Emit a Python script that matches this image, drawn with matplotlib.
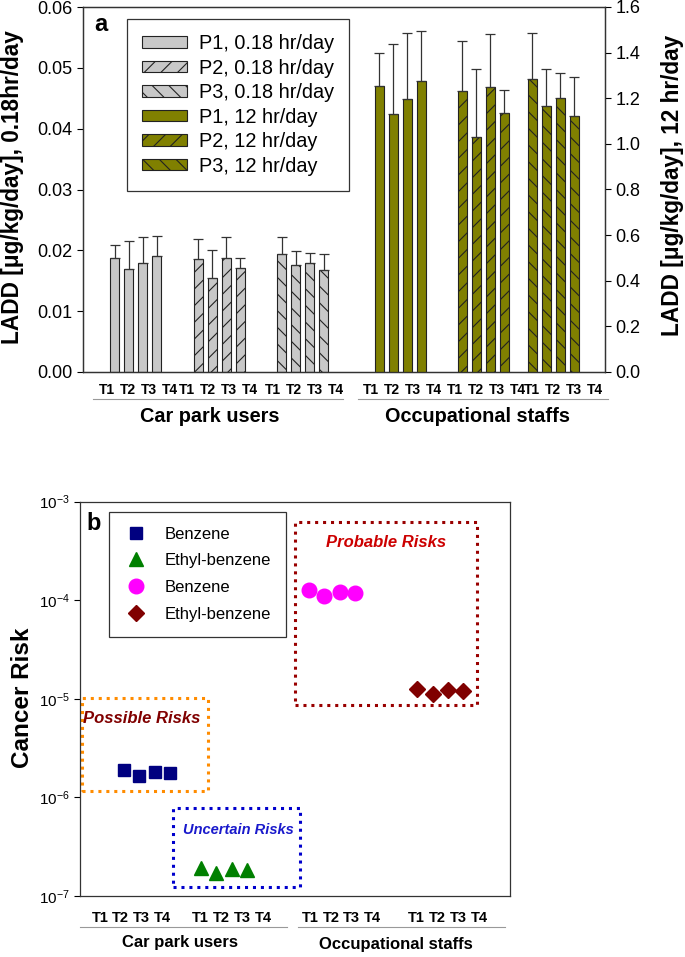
import numpy as np
import matplotlib.pyplot as plt
from matplotlib.patches import Patch, Rectangle
from matplotlib.ticker import NullLocator, FixedLocator

plt.rcParams['font.family'] = ['Liberation Sans', 'DejaVu Sans']
plt.rcParams['hatch.linewidth'] = 0.8

# ---- panel a data: LADD values (bar heights) and upper error amounts ----
times = ["T1", "T2", "T3", "T4"]
series_labels = ["P1, 0.18 hr/day", "P2, 0.18 hr/day", "P3, 0.18 hr/day",
                 "P1, 12 hr/day", "P2, 12 hr/day", "P3, 12 hr/day"]
p1_short = [0.0188, 0.0170, 0.0180, 0.0191]
p1_short_err = [0.0021, 0.0046, 0.0042, 0.0033]
p2_short = [0.0185, 0.0155, 0.0188, 0.0171]
p2_short_err = [0.0033, 0.0045, 0.0034, 0.0016]
p3_short = [0.0194, 0.0176, 0.0180, 0.0168]
p3_short_err = [0.0028, 0.0023, 0.0016, 0.0026]
p1_long = [1.255, 1.129, 1.196, 1.277]
p1_long_err = [0.143, 0.309, 0.290, 0.216]
p2_long = [1.233, 1.031, 1.249, 1.135]
p2_long_err = [0.216, 0.298, 0.233, 0.102]
p3_long = [1.284, 1.167, 1.202, 1.120]
p3_long_err = [0.201, 0.162, 0.108, 0.173]

# ---- panel b data: cancer risk ----
risk_labels = ["Benzene", "Ethyl-benzene", "Benzene", "Ethyl-benzene"]
benzene_car = [1.88e-6, 1.66e-6, 1.82e-6, 1.77e-6]
ethyl_car = [1.94e-7, 1.70e-7, 1.86e-7, 1.82e-7]
benzene_occ = [1.27e-4, 1.11e-4, 1.22e-4, 1.19e-4]
ethyl_occ = [1.25e-5, 1.11e-5, 1.23e-5, 1.19e-5]

fig = plt.figure(figsize=(6.85, 9.57), dpi=100)
W, H = 685.0, 957.0

# ================= panel a =================
ax = fig.add_axes([83 / W, 1 - 372 / H, 522 / W, 365 / H])
ax2 = ax.twinx()
ax.set_xlim(0, 37.29)
ax.set_ylim(0, 0.06)
ax2.set_ylim(0, 1.6)

gray = '#c8c8c8'
olive = '#808000'
bar_w = 0.66
group_x = [2.26, 8.24, 14.2, 21.16, 27.09, 32.09]
label_x = [1.69, 7.41, 13.57, 20.57, 26.57, 32.05]
hatches = [None, '//', '\\\\', None, '//', '\\\\']
vals = [p1_short, p2_short, p3_short, p1_long, p2_long, p3_long]
errs = [p1_short_err, p2_short_err, p3_short_err, p1_long_err, p2_long_err, p3_long_err]

handles = []
for i in range(6):
    a = ax if i < 3 else ax2
    col = gray if i < 3 else olive
    x = group_x[i] + np.arange(4)
    a.bar(x, vals[i], width=bar_w, color=col, edgecolor='#222222',
          linewidth=0.8, hatch=hatches[i], zorder=2)
    a.errorbar(x, vals[i], yerr=[np.zeros(4), errs[i]], fmt='none',
               ecolor='#333333', elinewidth=0.9, capsize=3.6, capthick=0.9,
               zorder=3)
    handles.append(Patch(facecolor=col, edgecolor='#222222', linewidth=0.8,
                         hatch=hatches[i], label=series_labels[i]))
    for k, t in enumerate(times):
        ax.text(label_x[i] + 1.5 * k, -0.0018, t, ha='center', va='top',
                fontsize=10, fontweight='bold')

ax.set_yticks(np.arange(0, 0.061, 0.01))
ax.set_yticklabels([f"{v:.2f}" for v in np.arange(0, 0.061, 0.01)])
ax2.set_yticks(np.arange(0, 1.61, 0.2))
ax2.set_yticklabels([f"{v:.1f}" for v in np.arange(0, 1.61, 0.2)])
ax.set_xticks([])
for a in (ax, ax2):
    a.tick_params(axis='y', labelsize=13, length=4, width=0.8, direction='out')
    for s in a.spines.values():
        s.set_linewidth(0.9)
        s.set_color('#333333')

leg = ax2.legend(handles=handles, loc='upper left', bbox_to_anchor=(0.084, 0.967),
                 borderaxespad=0, fontsize=14.3, handlelength=2.3, handleheight=0.5,
                 labelspacing=0.28, handletextpad=0.6, borderpad=0.75,
                 fancybox=False, edgecolor='#333333', framealpha=1)
leg.get_frame().set_linewidth(0.9)

ax.text(0.021, 0.951, 'a', transform=ax.transAxes, fontsize=17,
        fontweight='bold', va='center')

# group captions and grey lines for panel a
fig.add_artist(plt.Line2D([93 / W, 343 / W], [1 - 399 / H] * 2, color='#999999', lw=0.8))
fig.add_artist(plt.Line2D([358 / W, 608 / W], [1 - 399 / H] * 2, color='#999999', lw=0.8))
fig.text(210 / W, 1 - 416 / H, 'Car park users', ha='center', va='center',
         fontsize=14.3, fontweight='bold')
fig.text(478 / W, 1 - 416 / H, 'Occupational staffs', ha='center', va='center',
         fontsize=14.3, fontweight='bold')
fig.text(13 / W, 1 - 187 / H, 'LADD [μg/kg/day], 0.18hr/day', rotation=90,
         ha='center', va='center', fontsize=16.3, fontweight='bold')
fig.text(673 / W, 1 - 185 / H, 'LADD [μg/kg/day], 12 hr/day', rotation=90,
         ha='center', va='center', fontsize=16.3, fontweight='bold')

# ================= panel b =================
bx = fig.add_axes([80 / W, 1 - 896 / H, 430 / W, 394.3 / H])
bx.set_yscale('log')
bx.set_ylim(1e-7, 1e-3)
bx.set_xlim(0, 27.92)
bx.yaxis.set_major_locator(FixedLocator([1e-7, 1e-6, 1e-5, 1e-4, 1e-3]))
bx.yaxis.set_minor_locator(NullLocator())
bx.set_yticklabels([r'$\mathregular{10^{-7}}$', r'$\mathregular{10^{-6}}$',
                    r'$\mathregular{10^{-5}}$', r'$\mathregular{10^{-4}}$',
                    r'$\mathregular{10^{-3}}$'])
bx.set_xticks([])
bx.tick_params(axis='y', labelsize=11, length=4, width=0.8)
for s in bx.spines.values():
    s.set_linewidth(0.9)
    s.set_color('#333333')

pt_group_x = [2.86, 7.84, 14.87, 21.9]
pt_label_x = [1.3, 7.84, 14.94, 21.86]
series_b = [benzene_car, ethyl_car, benzene_occ, ethyl_occ]
markers = ['s', '^', 'o', 'D']
mcolors = ['#000080', '#008000', '#ff00ff', '#800000']
msizes = [9, 9.5, 10.5, 8.5]
for i in range(4):
    x = pt_group_x[i] + np.arange(4)
    bx.plot(x, series_b[i], linestyle='none', marker=markers[i], color=mcolors[i],
            markersize=msizes[i], label=risk_labels[i], zorder=3)
    for k, t in enumerate(times):
        bx.text(pt_label_x[i] + 1.35 * k, 7.0e-8, t, ha='center', va='top',
                fontsize=10.5, fontweight='bold')

leg2 = bx.legend(loc='upper left', bbox_to_anchor=(0.067, 0.975), borderaxespad=0,
                 fontsize=12, handlelength=1.5, handletextpad=0.95,
                 labelspacing=0.7, borderpad=0.9, fancybox=False,
                 edgecolor='#333333', framealpha=1, numpoints=1)
leg2.get_frame().set_linewidth(0.9)

# risk zones
zones = [(13.96, 25.8, 8.67e-6, 6.27e-4, '#990000'),
         (0.11, 8.33, 1.15e-6, 1.01e-5, '#ff8c00'),
         (6.06, 14.29, 1.22e-7, 7.88e-7, '#0000cc')]
for x0, x1, y0, y1, c in zones:
    bx.add_patch(Rectangle((x0, y0), x1 - x0, y1 - y0, fill=False, edgecolor=c,
                           linestyle=(0, (1, 1.6)), linewidth=2.2, zorder=2,
                           clip_on=False))
bx.text(19.87, 3.9e-4, 'Probable Risks', ha='center', va='center', color='#cc0000',
        fontsize=12, fontweight='bold', style='italic')
bx.text(4.0, 6.3e-6, 'Possible Risks', ha='center', va='center', color='#800000',
        fontsize=12, fontweight='bold', style='italic')
bx.text(10.28, 4.7e-7, 'Uncertain Risks', ha='center', va='center', color='#1a1acc',
        fontsize=10.5, fontweight='bold', style='italic')

bx.text(0.016, 0.945, 'b', transform=bx.transAxes, fontsize=17,
        fontweight='bold', va='center')

fig.add_artist(plt.Line2D([80 / W, 287 / W], [1 - 927 / H] * 2, color='#999999', lw=0.8))
fig.add_artist(plt.Line2D([298 / W, 505 / W], [1 - 927 / H] * 2, color='#999999', lw=0.8))
fig.text(180 / W, 1 - 943 / H, 'Car park users', ha='center', va='center',
         fontsize=12, fontweight='bold')
fig.text(396 / W, 1 - 944 / H, 'Occupational staffs', ha='center', va='center',
         fontsize=12, fontweight='bold')
fig.text(23 / W, 1 - 698 / H, 'Cancer Risk', rotation=90, ha='center', va='center',
         fontsize=17.5, fontweight='bold')

fig.savefig('out.png', dpi=100)
